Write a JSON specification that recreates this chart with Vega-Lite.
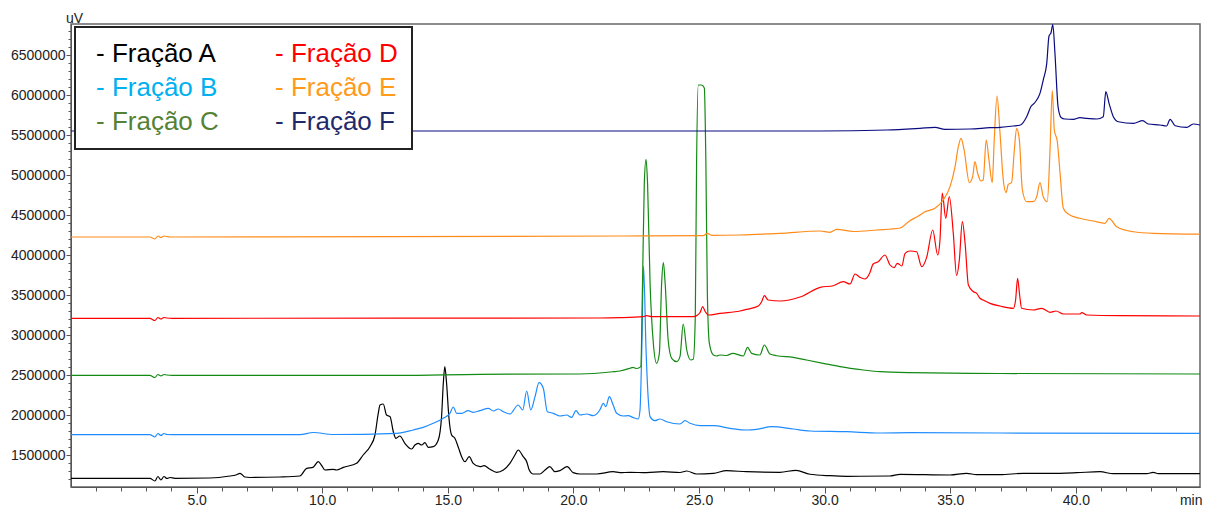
{
  "$schema": "https://vega.github.io/schema/vega-lite/v6.json",
  "width": 1129,
  "height": 463,
  "autosize": {"type": "none"},
  "padding": {"left": 71, "top": 24, "right": 7, "bottom": 19},
  "background": "white",
  "config": {
    "font": "Liberation Sans",
    "view": {"stroke": "#666", "strokeWidth": 1.5}
  },
  "data": {
    "values": [
      {"f":"Fração A","t":0,"v":1209000},{"f":"Fração A","t":3.14,"v":1209000},{"f":"Fração A","t":3.34,"v":1175000},{"f":"Fração A","t":3.46,"v":1231000},{"f":"Fração A","t":3.58,"v":1187500},{"f":"Fração A","t":3.7,"v":1231000},{"f":"Fração A","t":3.82,"v":1206000},{"f":"Fração A","t":3.94,"v":1219000},{"f":"Fração A","t":4.14,"v":1209000},{"f":"Fração A","t":5.53,"v":1212500},{"f":"Fração A","t":6.33,"v":1237500},{"f":"Fração A","t":6.56,"v":1250000},{"f":"Fração A","t":6.73,"v":1271000},{"f":"Fração A","t":6.92,"v":1225000},{"f":"Fração A","t":7.12,"v":1219000},{"f":"Fração A","t":8.32,"v":1225000},{"f":"Fração A","t":9.11,"v":1237500},{"f":"Fração A","t":9.38,"v":1333000},{"f":"Fração A","t":9.63,"v":1346000},{"f":"Fração A","t":9.84,"v":1416000},{"f":"Fração A","t":9.99,"v":1362500},{"f":"Fração A","t":10.11,"v":1312500},{"f":"Fração A","t":10.43,"v":1321000},{"f":"Fração A","t":10.57,"v":1312500},{"f":"Fração A","t":10.84,"v":1346000},{"f":"Fração A","t":11.37,"v":1396000},{"f":"Fração A","t":11.63,"v":1500000},{"f":"Fração A","t":11.9,"v":1604000},{"f":"Fração A","t":12.1,"v":1750000},{"f":"Fração A","t":12.23,"v":2021000},{"f":"Fração A","t":12.3,"v":2125000},{"f":"Fração A","t":12.43,"v":2137500},{"f":"Fração A","t":12.56,"v":2000000},{"f":"Fração A","t":12.7,"v":1979000},{"f":"Fração A","t":12.83,"v":1791000},{"f":"Fração A","t":12.93,"v":1709000},{"f":"Fração A","t":13.09,"v":1737500},{"f":"Fração A","t":13.29,"v":1646000},{"f":"Fração A","t":13.56,"v":1575000},{"f":"Fração A","t":13.69,"v":1625000},{"f":"Fração A","t":13.82,"v":1646000},{"f":"Fração A","t":13.96,"v":1625000},{"f":"Fração A","t":14.09,"v":1654000},{"f":"Fração A","t":14.22,"v":1596000},{"f":"Fração A","t":14.42,"v":1604000},{"f":"Fração A","t":14.62,"v":1687500},{"f":"Fração A","t":14.75,"v":1979000},{"f":"Fração A","t":14.82,"v":2396000},{"f":"Fração A","t":14.88,"v":2604000},{"f":"Fração A","t":14.95,"v":2396000},{"f":"Fração A","t":15.04,"v":1979000},{"f":"Fração A","t":15.15,"v":1750000},{"f":"Fração A","t":15.28,"v":1709000},{"f":"Fração A","t":15.41,"v":1604000},{"f":"Fração A","t":15.55,"v":1479000},{"f":"Fração A","t":15.68,"v":1416000},{"f":"Fração A","t":15.85,"v":1479000},{"f":"Fração A","t":16.01,"v":1396000},{"f":"Fração A","t":16.28,"v":1354000},{"f":"Fração A","t":16.44,"v":1366000},{"f":"Fração A","t":16.68,"v":1321000},{"f":"Fração A","t":16.94,"v":1284000},{"f":"Fração A","t":17.21,"v":1312500},{"f":"Fração A","t":17.47,"v":1396000},{"f":"Fração A","t":17.67,"v":1500000},{"f":"Fração A","t":17.8,"v":1562500},{"f":"Fração A","t":18.0,"v":1479000},{"f":"Fração A","t":18.14,"v":1416000},{"f":"Fração A","t":18.24,"v":1312500},{"f":"Fração A","t":18.4,"v":1262500},{"f":"Fração A","t":18.67,"v":1262500},{"f":"Fração A","t":18.87,"v":1312500},{"f":"Fração A","t":19.06,"v":1354000},{"f":"Fração A","t":19.26,"v":1291000},{"f":"Fração A","t":19.46,"v":1304000},{"f":"Fração A","t":19.75,"v":1354000},{"f":"Fração A","t":19.99,"v":1279000},{"f":"Fração A","t":20.26,"v":1262500},{"f":"Fração A","t":20.92,"v":1262500},{"f":"Fração A","t":21.58,"v":1291000},{"f":"Fração A","t":21.85,"v":1279000},{"f":"Fração A","t":22.25,"v":1284000},{"f":"Fração A","t":22.91,"v":1279000},{"f":"Fração A","t":23.57,"v":1291000},{"f":"Fração A","t":24.24,"v":1281000},{"f":"Fração A","t":24.51,"v":1300000},{"f":"Fração A","t":24.9,"v":1262500},{"f":"Fração A","t":25.57,"v":1271000},{"f":"Fração A","t":26.1,"v":1304000},{"f":"Fração A","t":26.89,"v":1291000},{"f":"Fração A","t":28.22,"v":1284000},{"f":"Fração A","t":28.86,"v":1309000},{"f":"Fração A","t":29.41,"v":1259000},{"f":"Fração A","t":30.21,"v":1241000},{"f":"Fração A","t":30.88,"v":1234000},{"f":"Fração A","t":32.6,"v":1237500},{"f":"Fração A","t":33.0,"v":1259000},{"f":"Fração A","t":34.99,"v":1250000},{"f":"Fração A","t":35.65,"v":1271000},{"f":"Fração A","t":36.05,"v":1254000},{"f":"Fração A","t":36.98,"v":1254000},{"f":"Fração A","t":37.91,"v":1271000},{"f":"Fração A","t":38.97,"v":1271000},{"f":"Fração A","t":40.03,"v":1279000},{"f":"Fração A","t":40.96,"v":1291000},{"f":"Fração A","t":41.49,"v":1266000},{"f":"Fração A","t":42.82,"v":1266000},{"f":"Fração A","t":43.08,"v":1284000},{"f":"Fração A","t":43.28,"v":1266000},{"f":"Fração A","t":44.94,"v":1266000},

      {"f":"Fração B","t":0,"v":1754000},{"f":"Fração B","t":3.14,"v":1754000},{"f":"Fração B","t":3.34,"v":1725000},{"f":"Fração B","t":3.46,"v":1769000},{"f":"Fração B","t":3.58,"v":1744000},{"f":"Fração B","t":3.7,"v":1769000},{"f":"Fração B","t":3.82,"v":1756000},{"f":"Fração B","t":4.02,"v":1754000},{"f":"Fração B","t":9.11,"v":1754000},{"f":"Fração B","t":9.64,"v":1781000},{"f":"Fração B","t":10.43,"v":1756000},{"f":"Fração B","t":12.96,"v":1771000},{"f":"Fração B","t":13.62,"v":1812500},{"f":"Fração B","t":14.02,"v":1846000},{"f":"Fração B","t":14.42,"v":1896000},{"f":"Fração B","t":14.82,"v":1959000},{"f":"Fração B","t":15.08,"v":2021000},{"f":"Fração B","t":15.22,"v":2100000},{"f":"Fração B","t":15.35,"v":2021000},{"f":"Fração B","t":15.55,"v":2021000},{"f":"Fração B","t":15.81,"v":2054000},{"f":"Fração B","t":16.01,"v":2034000},{"f":"Fração B","t":16.28,"v":2054000},{"f":"Fração B","t":16.61,"v":2084000},{"f":"Fração B","t":16.81,"v":2050000},{"f":"Fração B","t":17.01,"v":2075000},{"f":"Fração B","t":17.21,"v":2041000},{"f":"Fração B","t":17.47,"v":2012500},{"f":"Fração B","t":17.8,"v":2125000},{"f":"Fração B","t":17.98,"v":2062500},{"f":"Fração B","t":18.14,"v":2300000},{"f":"Fração B","t":18.3,"v":2062500},{"f":"Fração B","t":18.47,"v":2229000},{"f":"Fração B","t":18.63,"v":2404000},{"f":"Fração B","t":18.8,"v":2334000},{"f":"Fração B","t":18.96,"v":2041000},{"f":"Fração B","t":19.2,"v":2021000},{"f":"Fração B","t":19.46,"v":1987500},{"f":"Fração B","t":19.73,"v":2000000},{"f":"Fração B","t":19.93,"v":1971000},{"f":"Fração B","t":20.1,"v":2054000},{"f":"Fração B","t":20.26,"v":2000000},{"f":"Fração B","t":20.53,"v":2012500},{"f":"Fração B","t":20.79,"v":1991000},{"f":"Fração B","t":21.05,"v":2062500},{"f":"Fração B","t":21.19,"v":2146000},{"f":"Fração B","t":21.29,"v":2104000},{"f":"Fração B","t":21.43,"v":2229000},{"f":"Fração B","t":21.58,"v":2125000},{"f":"Fração B","t":21.72,"v":2021000},{"f":"Fração B","t":21.98,"v":1987500},{"f":"Fração B","t":22.18,"v":1991000},{"f":"Fração B","t":22.36,"v":1971000},{"f":"Fração B","t":22.58,"v":1950000},{"f":"Fração B","t":22.65,"v":2062500},{"f":"Fração B","t":22.72,"v":2812500},{"f":"Fração B","t":22.79,"v":3862500},{"f":"Fração B","t":22.89,"v":2812500},{"f":"Fração B","t":22.98,"v":2187500},{"f":"Fração B","t":23.05,"v":1979000},{"f":"Fração B","t":23.24,"v":1929000},{"f":"Fração B","t":23.44,"v":1950000},{"f":"Fração B","t":23.71,"v":1916000},{"f":"Fração B","t":24.24,"v":1887500},{"f":"Fração B","t":24.44,"v":1929000},{"f":"Fração B","t":24.64,"v":1896000},{"f":"Fração B","t":25.04,"v":1866000},{"f":"Fração B","t":25.57,"v":1866000},{"f":"Fração B","t":26.23,"v":1834000},{"f":"Fração B","t":26.89,"v":1812500},{"f":"Fração B","t":27.29,"v":1821000},{"f":"Fração B","t":27.89,"v":1854000},{"f":"Fração B","t":28.75,"v":1825000},{"f":"Fração B","t":29.41,"v":1800000},{"f":"Fração B","t":30.88,"v":1791000},{"f":"Fração B","t":32.2,"v":1775000},{"f":"Fração B","t":33.4,"v":1779000},{"f":"Fração B","t":36.98,"v":1775000},{"f":"Fração B","t":44.94,"v":1771000},

      {"f":"Fração C","t":0,"v":2496000},{"f":"Fração C","t":3.14,"v":2496000},{"f":"Fração C","t":3.34,"v":2469000},{"f":"Fração C","t":3.46,"v":2506000},{"f":"Fração C","t":3.58,"v":2490000},{"f":"Fração C","t":3.7,"v":2506000},{"f":"Fração C","t":3.82,"v":2500000},{"f":"Fração C","t":4.02,"v":2496000},{"f":"Fração C","t":13.09,"v":2496000},{"f":"Fração C","t":16.28,"v":2509000},{"f":"Fração C","t":20.26,"v":2512500},{"f":"Fração C","t":21.58,"v":2541000},{"f":"Fração C","t":21.85,"v":2550000},{"f":"Fração C","t":22.25,"v":2584000},{"f":"Fração C","t":22.37,"v":2596000},{"f":"Fração C","t":22.52,"v":2581000},{"f":"Fração C","t":22.68,"v":2604000},{"f":"Fração C","t":22.75,"v":3650000},{"f":"Fração C","t":22.82,"v":4896000},{"f":"Fração C","t":22.89,"v":5196000},{"f":"Fração C","t":22.95,"v":4896000},{"f":"Fração C","t":23.05,"v":3646000},{"f":"Fração C","t":23.18,"v":2896000},{"f":"Fração C","t":23.31,"v":2646000},{"f":"Fração C","t":23.42,"v":2771000},{"f":"Fração C","t":23.51,"v":3646000},{"f":"Fração C","t":23.58,"v":3904000},{"f":"Fração C","t":23.65,"v":3646000},{"f":"Fração C","t":23.77,"v":2937500},{"f":"Fração C","t":23.91,"v":2709000},{"f":"Fração C","t":24.11,"v":2666000},{"f":"Fração C","t":24.24,"v":2729000},{"f":"Fração C","t":24.37,"v":3137500},{"f":"Fração C","t":24.51,"v":2812500},{"f":"Fração C","t":24.67,"v":2687500},{"f":"Fração C","t":24.77,"v":2696000},{"f":"Fração C","t":24.85,"v":3229000},{"f":"Fração C","t":24.9,"v":5104000},{"f":"Fração C","t":24.97,"v":6125000},{"f":"Fração C","t":25.1,"v":6125000},{"f":"Fração C","t":25.21,"v":6087500},{"f":"Fração C","t":25.27,"v":5187500},{"f":"Fração C","t":25.33,"v":3521000},{"f":"Fração C","t":25.41,"v":2896000},{"f":"Fração C","t":25.57,"v":2750000},{"f":"Fração C","t":25.7,"v":2737500},{"f":"Fração C","t":25.83,"v":2750000},{"f":"Fração C","t":26.1,"v":2744000},{"f":"Fração C","t":26.34,"v":2771000},{"f":"Fração C","t":26.76,"v":2737500},{"f":"Fração C","t":26.93,"v":2846000},{"f":"Fração C","t":27.09,"v":2771000},{"f":"Fração C","t":27.42,"v":2750000},{"f":"Fração C","t":27.6,"v":2875000},{"f":"Fração C","t":27.82,"v":2762500},{"f":"Fração C","t":28.09,"v":2741000},{"f":"Fração C","t":28.75,"v":2721000},{"f":"Fração C","t":29.28,"v":2687500},{"f":"Fração C","t":29.94,"v":2646000},{"f":"Fração C","t":30.61,"v":2604000},{"f":"Fração C","t":31.54,"v":2562500},{"f":"Fração C","t":32.2,"v":2541000},{"f":"Fração C","t":33.4,"v":2529000},{"f":"Fração C","t":36.98,"v":2519000},{"f":"Fração C","t":44.94,"v":2512500},

      {"f":"Fração D","t":0,"v":3209000},{"f":"Fração D","t":3.14,"v":3209000},{"f":"Fração D","t":3.34,"v":3181000},{"f":"Fração D","t":3.46,"v":3219000},{"f":"Fração D","t":3.58,"v":3200000},{"f":"Fração D","t":3.7,"v":3219000},{"f":"Fração D","t":3.82,"v":3212500},{"f":"Fração D","t":4.02,"v":3209000},{"f":"Fração D","t":21.05,"v":3212500},{"f":"Fração D","t":21.85,"v":3216000},{"f":"Fração D","t":22.78,"v":3229000},{"f":"Fração D","t":22.91,"v":3241000},{"f":"Fração D","t":23.11,"v":3229000},{"f":"Fração D","t":24.77,"v":3229000},{"f":"Fração D","t":25.04,"v":3279000},{"f":"Fração D","t":25.14,"v":3354000},{"f":"Fração D","t":25.25,"v":3291000},{"f":"Fração D","t":25.37,"v":3250000},{"f":"Fração D","t":25.83,"v":3271000},{"f":"Fração D","t":26.63,"v":3300000},{"f":"Fração D","t":26.9,"v":3321000},{"f":"Fração D","t":27.36,"v":3362500},{"f":"Fração D","t":27.49,"v":3416000},{"f":"Fração D","t":27.6,"v":3491000},{"f":"Fração D","t":27.75,"v":3437500},{"f":"Fração D","t":28.22,"v":3425000},{"f":"Fração D","t":29.02,"v":3475000},{"f":"Fração D","t":29.82,"v":3596000},{"f":"Fração D","t":30.34,"v":3616000},{"f":"Fração D","t":30.74,"v":3666000},{"f":"Fração D","t":31.01,"v":3637500},{"f":"Fração D","t":31.21,"v":3762500},{"f":"Fração D","t":31.4,"v":3721000},{"f":"Fração D","t":31.6,"v":3700000},{"f":"Fração D","t":31.8,"v":3779000},{"f":"Fração D","t":31.93,"v":3887500},{"f":"Fração D","t":32.13,"v":3916000},{"f":"Fração D","t":32.4,"v":4000000},{"f":"Fração D","t":32.6,"v":3875000},{"f":"Fração D","t":32.76,"v":3841000},{"f":"Fração D","t":32.89,"v":3896000},{"f":"Fração D","t":33.07,"v":3862500},{"f":"Fração D","t":33.2,"v":4021000},{"f":"Fração D","t":33.39,"v":4050000},{"f":"Fração D","t":33.66,"v":4041000},{"f":"Fração D","t":33.86,"v":3854000},{"f":"Fração D","t":34.06,"v":3971000},{"f":"Fração D","t":34.3,"v":4312500},{"f":"Fração D","t":34.5,"v":4000000},{"f":"Fração D","t":34.59,"v":4187500},{"f":"Fração D","t":34.68,"v":4775000},{"f":"Fração D","t":34.82,"v":4459000},{"f":"Fração D","t":34.96,"v":4731000},{"f":"Fração D","t":35.12,"v":4271000},{"f":"Fração D","t":35.25,"v":3744000},{"f":"Fração D","t":35.36,"v":3937500},{"f":"Fração D","t":35.48,"v":4416000},{"f":"Fração D","t":35.59,"v":4146000},{"f":"Fração D","t":35.72,"v":3625000},{"f":"Fração D","t":35.92,"v":3541000},{"f":"Fração D","t":36.05,"v":3521000},{"f":"Fração D","t":36.18,"v":3459000},{"f":"Fração D","t":36.31,"v":3437500},{"f":"Fração D","t":36.58,"v":3396000},{"f":"Fração D","t":36.98,"v":3362500},{"f":"Fração D","t":37.51,"v":3334000},{"f":"Fração D","t":37.6,"v":3437500},{"f":"Fração D","t":37.68,"v":3709000},{"f":"Fração D","t":37.76,"v":3500000},{"f":"Fração D","t":37.84,"v":3334000},{"f":"Fração D","t":38.3,"v":3312500},{"f":"Fração D","t":38.64,"v":3334000},{"f":"Fração D","t":38.97,"v":3284000},{"f":"Fração D","t":39.21,"v":3300000},{"f":"Fração D","t":39.5,"v":3262500},{"f":"Fração D","t":40.16,"v":3262500},{"f":"Fração D","t":40.23,"v":3279000},{"f":"Fração D","t":40.43,"v":3250000},{"f":"Fração D","t":41.76,"v":3241000},{"f":"Fração D","t":44.94,"v":3237500},

      {"f":"Fração E","t":0,"v":4225000},{"f":"Fração E","t":3.14,"v":4225000},{"f":"Fração E","t":3.34,"v":4200000},{"f":"Fração E","t":3.46,"v":4237500},{"f":"Fração E","t":3.58,"v":4219000},{"f":"Fração E","t":3.7,"v":4237500},{"f":"Fração E","t":3.94,"v":4225000},{"f":"Fração E","t":21.85,"v":4237500},{"f":"Fração E","t":25.17,"v":4241000},{"f":"Fração E","t":25.33,"v":4271000},{"f":"Fração E","t":25.5,"v":4246000},{"f":"Fração E","t":26.63,"v":4250000},{"f":"Fração E","t":28.22,"v":4271000},{"f":"Fração E","t":29.82,"v":4300000},{"f":"Fração E","t":30.21,"v":4284000},{"f":"Fração E","t":30.48,"v":4321000},{"f":"Fração E","t":31.14,"v":4294000},{"f":"Fração E","t":32.07,"v":4312500},{"f":"Fração E","t":33.0,"v":4337500},{"f":"Fração E","t":33.39,"v":4429000},{"f":"Fração E","t":33.73,"v":4487500},{"f":"Fração E","t":33.99,"v":4541000},{"f":"Fração E","t":34.39,"v":4584000},{"f":"Fração E","t":34.72,"v":4687500},{"f":"Fração E","t":34.99,"v":4854000},{"f":"Fração E","t":35.19,"v":5104000},{"f":"Fração E","t":35.32,"v":5354000},{"f":"Fração E","t":35.43,"v":5458000},{"f":"Fração E","t":35.55,"v":5312500},{"f":"Fração E","t":35.76,"v":4904000},{"f":"Fração E","t":35.89,"v":4979000},{"f":"Fração E","t":35.98,"v":5166000},{"f":"Fração E","t":36.09,"v":5021000},{"f":"Fração E","t":36.22,"v":4925000},{"f":"Fração E","t":36.31,"v":4937500},{"f":"Fração E","t":36.43,"v":5437500},{"f":"Fração E","t":36.54,"v":5187500},{"f":"Fração E","t":36.67,"v":4904000},{"f":"Fração E","t":36.75,"v":5437500},{"f":"Fração E","t":36.86,"v":5987500},{"f":"Fração E","t":36.98,"v":5521000},{"f":"Fração E","t":37.11,"v":4937500},{"f":"Fração E","t":37.22,"v":4779000},{"f":"Fração E","t":37.31,"v":4884000},{"f":"Fração E","t":37.44,"v":4904000},{"f":"Fração E","t":37.55,"v":5312500},{"f":"Fração E","t":37.64,"v":5583000},{"f":"Fração E","t":37.75,"v":5437500},{"f":"Fração E","t":37.87,"v":4812500},{"f":"Fração E","t":38.04,"v":4666000},{"f":"Fração E","t":38.31,"v":4666000},{"f":"Fração E","t":38.44,"v":4729000},{"f":"Fração E","t":38.57,"v":4904000},{"f":"Fração E","t":38.7,"v":4729000},{"f":"Fração E","t":38.86,"v":4666000},{"f":"Fração E","t":38.97,"v":5312500},{"f":"Fração E","t":39.06,"v":6056000},{"f":"Fração E","t":39.14,"v":5562500},{"f":"Fração E","t":39.26,"v":5419000},{"f":"Fração E","t":39.37,"v":5021000},{"f":"Fração E","t":39.5,"v":4584000},{"f":"Fração E","t":39.69,"v":4512500},{"f":"Fração E","t":40.16,"v":4459000},{"f":"Fração E","t":40.69,"v":4425000},{"f":"Fração E","t":41.16,"v":4396000},{"f":"Fração E","t":41.32,"v":4459000},{"f":"Fração E","t":41.62,"v":4354000},{"f":"Fração E","t":42.29,"v":4291000},{"f":"Fração E","t":43.08,"v":4271000},{"f":"Fração E","t":44.94,"v":4260000},

      {"f":"Fração F","t":0,"v":5550000},{"f":"Fração F","t":3.14,"v":5550000},{"f":"Fração F","t":3.34,"v":5525000},{"f":"Fração F","t":3.46,"v":5562500},{"f":"Fração F","t":3.58,"v":5544000},{"f":"Fração F","t":3.7,"v":5562500},{"f":"Fração F","t":3.94,"v":5550000},{"f":"Fração F","t":29.82,"v":5550000},{"f":"Fração F","t":32.47,"v":5562500},{"f":"Fração F","t":33.79,"v":5584000},{"f":"Fração F","t":34.39,"v":5596000},{"f":"Fração F","t":34.79,"v":5571000},{"f":"Fração F","t":35.78,"v":5575000},{"f":"Fração F","t":36.58,"v":5591000},{"f":"Fração F","t":36.98,"v":5596000},{"f":"Fração F","t":37.51,"v":5612500},{"f":"Fração F","t":37.79,"v":5625000},{"f":"Fração F","t":38.04,"v":5729000},{"f":"Fração F","t":38.21,"v":5856000},{"f":"Fração F","t":38.37,"v":5906000},{"f":"Fração F","t":38.57,"v":6021000},{"f":"Fração F","t":38.71,"v":6200000},{"f":"Fração F","t":38.84,"v":6396000},{"f":"Fração F","t":38.93,"v":6737500},{"f":"Fração F","t":39.01,"v":6777500},{"f":"Fração F","t":39.08,"v":6881000},{"f":"Fração F","t":39.17,"v":6500000},{"f":"Fração F","t":39.29,"v":5854000},{"f":"Fração F","t":39.41,"v":5719000},{"f":"Fração F","t":39.56,"v":5700000},{"f":"Fração F","t":39.9,"v":5696000},{"f":"Fração F","t":40.16,"v":5716000},{"f":"Fração F","t":40.43,"v":5709000},{"f":"Fração F","t":40.83,"v":5700000},{"f":"Fração F","t":41.09,"v":5729000},{"f":"Fração F","t":41.19,"v":6041000},{"f":"Fração F","t":41.32,"v":5896000},{"f":"Fração F","t":41.49,"v":5729000},{"f":"Fração F","t":41.69,"v":5666000},{"f":"Fração F","t":42.29,"v":5646000},{"f":"Fração F","t":42.66,"v":5679000},{"f":"Fração F","t":42.88,"v":5637500},{"f":"Fração F","t":43.35,"v":5625000},{"f":"Fração F","t":43.61,"v":5612500},{"f":"Fração F","t":43.75,"v":5696000},{"f":"Fração F","t":43.95,"v":5616000},{"f":"Fração F","t":44.41,"v":5596000},{"f":"Fração F","t":44.67,"v":5637500},{"f":"Fração F","t":44.94,"v":5625000}
    ]
  },
  "mark": {"type": "line", "strokeWidth": 1.2, "interpolate": "monotone", "clip": true},
  "encoding": {
    "x": {
      "field": "t",
      "type": "quantitative",
      "scale": {"domain": [0, 44.94], "nice": false, "zero": false},
      "axis": {
        "values": [1,2,3,4,5,6,7,8,9,10,11,12,13,14,15,16,17,18,19,20,21,22,23,24,25,26,27,28,29,30,31,32,33,34,35,36,37,38,39,40,41,42,43,44],
        "labelExpr": "datum.value % 5 === 0 ? format(datum.value, '.1f') : ''",
        "tickSize": {"condition": {"test": "datum.value % 5 === 0", "value": 6}, "value": 4},
        "grid": false,
        "domainColor": "#555",
        "tickColor": "#555",
        "labelFontSize": 14,
        "labelColor": "#222",
        "labelPadding": 0,
        "labelFlush": false,
        "labelOverlap": false,
        "title": "min",
        "titleX": 1131,
        "titleY": 17,
        "titleAlign": "right",
        "titleBaseline": "alphabetic",
        "titleFontWeight": "normal",
        "titleFontSize": 14,
        "titleColor": "#222"
      }
    },
    "y": {
      "field": "v",
      "type": "quantitative",
      "scale": {"domain": [1100000, 6887500], "nice": false, "zero": false},
      "axis": {
        "values": [1200000,1300000,1400000,1500000,1600000,1700000,1800000,1900000,2000000,2100000,2200000,2300000,2400000,2500000,2600000,2700000,2800000,2900000,3000000,3100000,3200000,3300000,3400000,3500000,3600000,3700000,3800000,3900000,4000000,4100000,4200000,4300000,4400000,4500000,4600000,4700000,4800000,4900000,5000000,5100000,5200000,5300000,5400000,5500000,5600000,5700000,5800000,5900000,6000000,6100000,6200000,6300000,6400000,6500000,6600000,6700000,6800000],
        "labelExpr": "datum.value % 500000 === 0 ? format(datum.value, 'd') : ''",
        "tickSize": {"condition": {"test": "datum.value % 500000 === 0", "value": 5}, "value": 3},
        "grid": false,
        "domainColor": "#555",
        "tickColor": "#555",
        "labelFontSize": 14,
        "labelColor": "#222",
        "labelPadding": 1,
        "labelOverlap": false,
        "title": "uV",
        "titleAngle": 0,
        "titleX": 3,
        "titleY": -2,
        "titleAlign": "center",
        "titleBaseline": "alphabetic",
        "titleFontWeight": "normal",
        "titleFontSize": 14,
        "titleColor": "#222"
      }
    },
    "color": {
      "field": "f",
      "type": "nominal",
      "scale": {
        "domain": ["Fração A", "Fração B", "Fração C", "Fração D", "Fração E", "Fração F"],
        "range": ["#000000", "#1E8CFF", "#138A13", "#FF0000", "#FF8C1A", "#0A0A80"]
      },
      "legend": {
        "orient": "none",
        "legendX": 4,
        "legendY": 3,
        "columns": 2,
        "direction": "vertical",
        "title": null,
        "labelExpr": "'- ' + datum.label",
        "labelFontSize": 26,
        "labelFont": "Liberation Sans",
        "labelLimit": 0,
        "labelOffset": -19,
        "symbolType": "circle",
        "symbolOpacity": 0,
        "symbolSize": 1,
        "symbolStrokeWidth": 0,
        "padding": 14,
        "rowPadding": 8,
        "columnPadding": 49,
        "fillColor": "white",
        "strokeColor": "#222",
        "encode": {
          "legend": {"update": {"strokeWidth": {"value": 2}}},
          "labels": {
            "update": {
              "fill": {"signal": "datum.value === 'Fração A' ? '#000000' : datum.value === 'Fração B' ? '#00B0F0' : datum.value === 'Fração C' ? '#548235' : datum.value === 'Fração D' ? '#FF0000' : datum.value === 'Fração E' ? '#FF9A1A' : '#1F2A6B'"}
            }
          }
        }
      }
    }
  }
}
